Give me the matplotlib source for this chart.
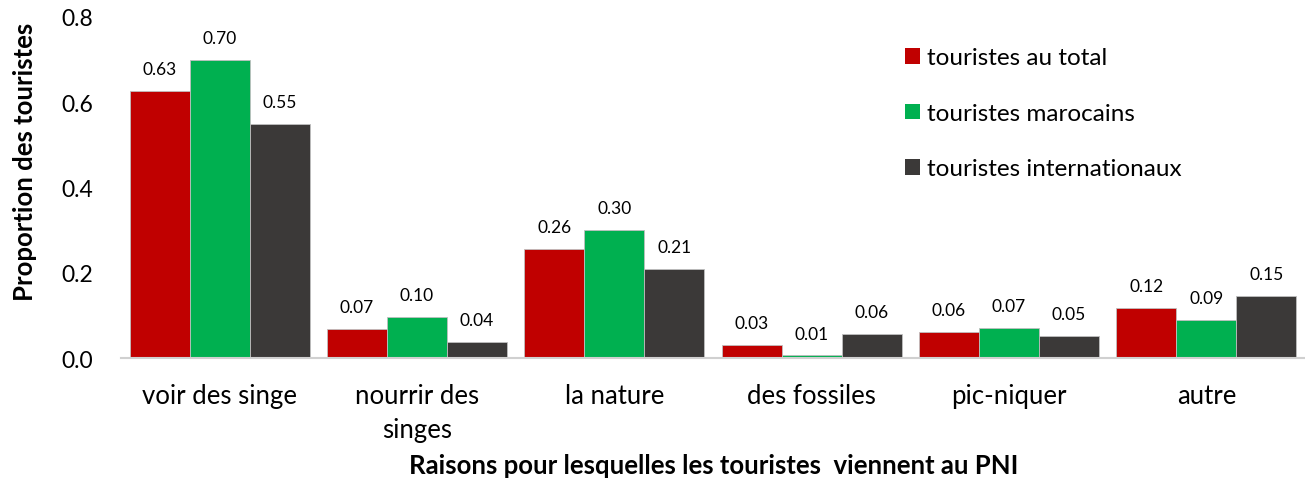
import numpy as np
from matplotlib import pyplot as plt

plt.rcParams['font.family'] = ['Lato', 'DejaVu Sans']

categories = ['voir des singe', 'nourrir des\nsinges', 'la nature', 'des fossiles', 'pic-niquer', 'autre']
series = ['touristes au total', 'touristes marocains', 'touristes internationaux']
total = [0.626, 0.068, 0.256, 0.030, 0.062, 0.117]
marocains = [0.700, 0.097, 0.300, 0.006, 0.070, 0.089]
internationaux = [0.549, 0.038, 0.209, 0.056, 0.052, 0.146]
colors = ['#C00000', '#00B050', '#3B3938']

fig = plt.figure(figsize=(13.05, 4.81), dpi=100)
ax = fig.add_axes([0.0927, 0.2536, 0.9073, 0.709])

x = np.arange(len(categories))
w = 0.304
for k, (vals, col, name) in enumerate(zip([total, marocains, internationaux], colors, series)):
    bars = ax.bar(x + (k - 1) * w, vals, w, color=col, edgecolor='#BFBFBF', linewidth=0.6, label=name)
    for b, v in zip(bars, vals):
        ax.annotate(f'{v:.2f}', (b.get_x() + b.get_width() / 2, v), xytext=(0, 10),
                    textcoords='offset points', ha='center', va='bottom', fontsize=12.5)

ax.set_xlim(-0.5, len(categories) - 0.5)
ax.set_ylim(0, 0.8)
ax.set_yticks([0, 0.2, 0.4, 0.6, 0.8])
ax.set_yticklabels(['0.0', '0.2', '0.4', '0.6', '0.8'], fontsize=16.5)
ax.set_xticks(x)
ax.set_xticklabels(categories, fontsize=18.5, linespacing=1.45, va='top')
ax.tick_params(axis='both', length=0)
ax.tick_params(axis='x', pad=18)
ax.tick_params(axis='y', pad=20)
for s in ['top', 'right', 'left']:
    ax.spines[s].set_visible(False)
ax.spines['bottom'].set_color('#D0D0D0')
ax.spines['bottom'].set_linewidth(1.5)

# axis titles placed in figure coordinates
fig.text(25 / 1305, 1 - 162 / 481, 'Proportion des touristes', fontsize=18.5, fontweight='bold',
         rotation=90, ha='center', va='center')
fig.text(714 / 1305, 1 - 466 / 481, 'Raisons pour lesquelles les touristes  viennent au PNI',
         fontsize=18.5, fontweight='bold', ha='center', va='center')

leg = ax.legend(loc='upper left', bbox_to_anchor=(0.644, 0.975), frameon=False, fontsize=17.5,
                handlelength=0.6, handleheight=0.6, handletextpad=0.3, labelspacing=1.42)
for h in leg.legend_handles:
    h.set_edgecolor('none')

fig.savefig('out.png', dpi=100)
